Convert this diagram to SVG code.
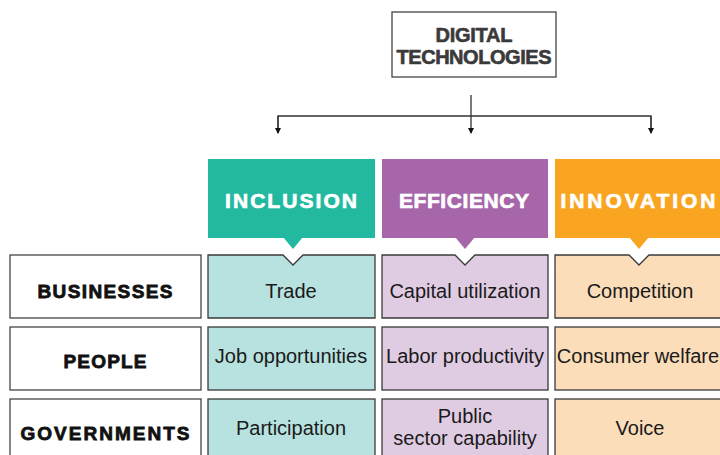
<svg xmlns="http://www.w3.org/2000/svg" width="720" height="455" viewBox="0 0 720 455">
<style>
.hd{font-family:"Liberation Sans",Arial,sans-serif;font-weight:bold;font-size:21px;fill:#ffffff;stroke:#ffffff;stroke-width:0.7;text-anchor:middle}
.rl{font-family:"Liberation Sans",Arial,sans-serif;font-weight:bold;font-size:19px;fill:#111111;stroke:#111111;stroke-width:0.8;text-anchor:middle}
.ct{font-family:"Liberation Sans",Arial,sans-serif;font-size:20px;fill:#1a1a1a;text-anchor:middle}
.tt{font-family:"Liberation Sans",Arial,sans-serif;font-weight:bold;font-size:20px;fill:#3a3a3a;stroke:#3a3a3a;stroke-width:0.6;text-anchor:middle}
.box{fill:#ffffff;stroke:#444444;stroke-width:1.3}
.cell{stroke:#3a3a3a;stroke-width:1.3}
.ln{fill:none;stroke:#333333;stroke-width:1.3}
</style>
<defs>
<marker id="ah" markerWidth="6" markerHeight="6" refX="5" refY="3" orient="auto" markerUnits="userSpaceOnUse">
<path d="M0,0 L6,3 L0,6 Z" fill="#111111"/>
</marker>
</defs>
<rect width="720" height="455" fill="#ffffff"/>

<g id="digital-technologies">
<rect class="box" x="392" y="12" width="164" height="65"/>
<text class="tt" x="474" y="42" textLength="77" lengthAdjust="spacing">DIGITAL</text>
<text class="tt" x="474" y="64" textLength="155" lengthAdjust="spacing">TECHNOLOGIES</text>
</g>

<g id="connectors">
<line class="ln" x1="471" y1="95" x2="471" y2="133" marker-end="url(#ah)"/>
<polyline class="ln" points="278,133 278,116 651,116 651,133"/>
<line class="ln" x1="278" y1="116" x2="278" y2="133" marker-end="url(#ah)"/>
<line class="ln" x1="651" y1="116" x2="651" y2="133" marker-end="url(#ah)"/>
</g>

<g id="inclusion">
<rect x="208" y="159" width="167" height="79" fill="#22B9A0"/>
<path d="M283,237 L293,249 L303,237 Z" fill="#22B9A0"/>
<text class="hd" x="291" y="208" textLength="132" lengthAdjust="spacing">INCLUSION</text>
</g>
<g id="efficiency">
<rect x="382" y="159" width="166" height="79" fill="#A766AA"/>
<path d="M455,237 L465,249 L475,237 Z" fill="#A766AA"/>
<text class="hd" x="464" y="208" textLength="130" lengthAdjust="spacing">EFFICIENCY</text>
</g>
<g id="innovation">
<rect x="555" y="159" width="170" height="79" fill="#F9A521"/>
<path d="M629,237 L639,249 L649,237 Z" fill="#F9A521"/>
<text class="hd" x="638" y="208" textLength="155" lengthAdjust="spacing">INNOVATION</text>
</g>

<g id="businesses">
<rect class="box" x="10" y="255" width="191" height="63"/>
<text class="rl" x="105" y="298" textLength="135" lengthAdjust="spacing">BUSINESSES</text>
</g>
<g id="people">
<rect class="box" x="10" y="327" width="191" height="63"/>
<text class="rl" x="105" y="368" textLength="83" lengthAdjust="spacing">PEOPLE</text>
</g>
<g id="governments">
<rect class="box" x="10" y="399" width="191" height="63"/>
<text class="rl" x="105" y="440" textLength="169" lengthAdjust="spacing">GOVERNMENTS</text>
</g>

<g id="trade">
<path class="cell" fill="#B7E2DF" d="M208,255 H283 L293,265 L303,255 H375 V318 H208 Z"/>
<text class="ct" x="291" y="298">Trade</text>
</g>
<g id="capital-utilization">
<path class="cell" fill="#E0CCE2" d="M382,255 H455 L465,265 L475,255 H548 V318 H382 Z"/>
<text class="ct" x="465" y="298">Capital utilization</text>
</g>
<g id="competition">
<path class="cell" fill="#FCDDB9" d="M555,255 H629 L639,265 L649,255 H725 V318 H555 Z"/>
<text class="ct" x="640" y="298">Competition</text>
</g>

<g id="job-opportunities">
<rect class="cell" fill="#B7E2DF" x="208" y="327" width="167" height="63"/>
<text class="ct" x="291" y="363">Job opportunities</text>
</g>
<g id="labor-productivity">
<rect class="cell" fill="#E0CCE2" x="382" y="327" width="166" height="63"/>
<text class="ct" x="465" y="363">Labor productivity</text>
</g>
<g id="consumer-welfare">
<rect class="cell" fill="#FCDDB9" x="555" y="327" width="170" height="63"/>
<text class="ct" x="638" y="363">Consumer welfare</text>
</g>

<g id="participation">
<rect class="cell" fill="#B7E2DF" x="208" y="399" width="167" height="63"/>
<text class="ct" x="291" y="435">Participation</text>
</g>
<g id="public-sector-capability">
<rect class="cell" fill="#E0CCE2" x="382" y="399" width="166" height="63"/>
<text class="ct" x="465" y="423">Public</text>
<text class="ct" x="465" y="445">sector capability</text>
</g>
<g id="voice">
<rect class="cell" fill="#FCDDB9" x="555" y="399" width="170" height="63"/>
<text class="ct" x="640" y="435">Voice</text>
</g>
</svg>
